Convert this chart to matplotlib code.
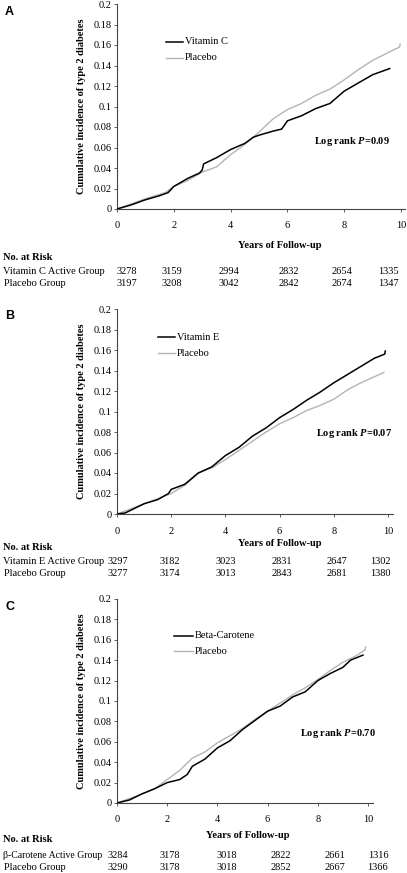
import matplotlib
matplotlib.use("Agg")
import matplotlib.pyplot as plt

plt.rcParams['font.family'] = ['Liberation Serif', 'DejaVu Serif']
plt.rcParams['mathtext.fontset'] = 'custom'
plt.rcParams['mathtext.it'] = 'Liberation Serif:italic:bold'
plt.rcParams['mathtext.rm'] = 'Liberation Serif:bold'

# ---------------- data ----------------
years = [0, 2, 4, 6, 8, 10]
yticks = [0, 0.02, 0.04, 0.06, 0.08, 0.1, 0.12, 0.14, 0.16, 0.18, 0.2]
ytick_labels = ['0', '0.02', '0.04', '0.06', '0.08', '0.1', '0.12', '0.14', '0.16', '0.18', '0.2']

panel_letters = ['A', 'B', 'C']
active_names = ['Vitamin C', 'Vitamin E', 'Beta-Carotene']
pvalue_texts = ['0.09', '0.07', '0.70']
risk_active_labels = ['Vitamin C Active Group', 'Vitamin E Active Group', 'β-Carotene Active Group']

# Panel A
a_act_x = [0, 0.5, 1, 1.5, 1.8, 2, 2.5, 2.9, 3.0, 3.05, 3.5, 4, 4.5, 4.8, 5, 5.5, 5.8, 6, 6.5, 7, 7.5, 8, 8.5, 9, 9.3, 9.6]
a_act_y = [0, 0.004, 0.009, 0.013, 0.016, 0.022, 0.030, 0.035, 0.038, 0.044, 0.050, 0.058, 0.064, 0.070, 0.072, 0.076, 0.078, 0.086, 0.091, 0.098, 0.103, 0.115, 0.123, 0.131, 0.134, 0.137]
a_pla_x = [0, 1, 1.7, 2, 2.5, 3, 3.5, 4, 4.5, 5, 5.5, 6, 6.5, 7, 7.5, 8, 8.5, 9, 9.5, 9.95, 9.97]
a_pla_y = [0, 0.010, 0.016, 0.022, 0.028, 0.036, 0.041, 0.053, 0.063, 0.075, 0.088, 0.097, 0.103, 0.111, 0.117, 0.126, 0.136, 0.145, 0.152, 0.158, 0.161]

# Panel B
b_act_x = [0, 0.3, 1, 1.5, 1.9, 2.0, 2.5, 3, 3.5, 4, 4.5, 5, 5.5, 6, 6.5, 7, 7.5, 8, 8.5, 9, 9.5, 9.88, 9.9]
b_act_y = [0, 0.001, 0.010, 0.014, 0.020, 0.024, 0.029, 0.040, 0.046, 0.057, 0.065, 0.076, 0.084, 0.094, 0.102, 0.111, 0.119, 0.128, 0.136, 0.144, 0.152, 0.156, 0.159]
b_pla_x = [0, 1, 2, 2.5, 3, 3.5, 4, 4.5, 5, 5.5, 6, 6.5, 7, 7.5, 8, 8.5, 9, 9.5, 9.85]
b_pla_y = [0, 0.010, 0.020, 0.028, 0.040, 0.045, 0.053, 0.062, 0.071, 0.080, 0.088, 0.094, 0.101, 0.106, 0.112, 0.121, 0.128, 0.134, 0.138]

# Panel C
c_act_x = [0, 0.5, 1, 1.5, 2, 2.5, 2.8, 3, 3.5, 4, 4.5, 5, 5.5, 6, 6.5, 7, 7.5, 8, 8.5, 9, 9.3, 9.8]
c_act_y = [0, 0.003, 0.009, 0.014, 0.020, 0.023, 0.028, 0.036, 0.043, 0.054, 0.061, 0.072, 0.081, 0.090, 0.095, 0.104, 0.109, 0.120, 0.127, 0.133, 0.140, 0.145]
c_pla_x = [0, 1, 1.5, 2, 2.5, 3, 3.5, 4, 4.5, 5, 5.5, 6, 6.5, 7, 7.5, 8, 8.5, 9, 9.5, 9.88, 9.9]
c_pla_y = [0, 0.009, 0.014, 0.023, 0.032, 0.044, 0.050, 0.059, 0.066, 0.073, 0.082, 0.090, 0.098, 0.106, 0.113, 0.121, 0.130, 0.138, 0.144, 0.150, 0.153]

risk_a_active = [3278, 3159, 2994, 2832, 2654, 1335]
risk_a_placebo = [3197, 3208, 3042, 2842, 2674, 1347]
risk_b_active = [3297, 3182, 3023, 2831, 2647, 1302]
risk_b_placebo = [3277, 3174, 3013, 2843, 2681, 1380]
risk_c_active = [3284, 3178, 3018, 2822, 2661, 1316]
risk_c_placebo = [3290, 3178, 3018, 2852, 2667, 1366]

# ---------------- layout (pixels) ----------------
W, H = 407, 873
fig = plt.figure(figsize=(W / 100, H / 100), dpi=100)

def fx(px):
    return px / W

def fy(py):
    return 1 - py / H

panels = [
    dict(left=117, top=4, bottom=209, x10=401, xend=405, ylab_x=82, xlab=(280, 246),
         risk_head=257, rows=(272, 284), cols=[127, 172, 229, 289, 342, 388],
         legend=(166, 183, 42, 58), pv=(352, 141), letter=(5, 6), label_fs=7.5,
         act=(a_act_x, a_act_y), pla=(a_pla_x, a_pla_y),
         risk=(risk_a_active, risk_a_placebo)),
    dict(left=117, top=309, bottom=514, x10=388, xend=393, ylab_x=82, xlab=(280, 543),
         risk_head=547, rows=(562, 574), cols=[118, 170, 226, 282, 337, 380],
         legend=(158, 175, 337, 353), pv=(354, 434), letter=(5, 310), label_fs=7.5,
         act=(b_act_x, b_act_y), pla=(b_pla_x, b_pla_y),
         risk=(risk_b_active, risk_b_placebo)),
    dict(left=117, top=599, bottom=803, x10=368, xend=373, ylab_x=82, xlab=(248, 835),
         risk_head=839, rows=(855, 867), cols=[118, 170, 227, 281, 335, 378],
         legend=(174, 193, 636, 651), pv=(338, 733), letter=(5, 601), label_fs=7.0,
         act=(c_act_x, c_act_y), pla=(c_pla_x, c_pla_y),
         risk=(risk_c_active, risk_c_placebo)),
]

tick_fs = 7.5
spine_col = '#444444'
gray = '#b4b4b4'

for i, p in enumerate(panels):
    width = p['xend'] - p['left']
    xmax = 10 * width / (p['x10'] - p['left'])
    ax = fig.add_axes([fx(p['left']), fy(p['bottom']), fx(width), (p['bottom'] - p['top']) / H])
    ax.plot(p['pla'][0], p['pla'][1], color=gray, lw=1.0, zorder=2)
    ax.plot(p['act'][0], p['act'][1], color='black', lw=1.1, zorder=3)
    ax.set_xlim(0, xmax)
    ax.set_ylim(0, 0.2)
    ax.set_yticks(yticks)
    ax.set_yticklabels(ytick_labels)
    ax.set_xticks(years)
    ax.set_xticklabels([str(y) for y in years])
    for s in ['top', 'right']:
        ax.spines[s].set_visible(False)
    for s in ['left', 'bottom']:
        ax.spines[s].set_color(spine_col)
        ax.spines[s].set_linewidth(0.8)
    ax.tick_params(axis='both', direction='out', length=2, width=0.6, color=spine_col,
                   labelsize=tick_fs, pad=2)
    ax.tick_params(axis='x', pad=7)
    ax.set_facecolor('none')

    # y label
    fig.text(fx(p['ylab_x']), fy((p['top'] + p['bottom']) / 2), 'Cumulative incidence of type 2 diabetes',
             rotation=90, ha='center', va='center', fontsize=7.5, fontweight='bold')
    # x label
    fig.text(fx(p['xlab'][0]), fy(p['xlab'][1]), 'Years of Follow-up', ha='center', va='center',
             fontsize=7.5, fontweight='bold')
    # legend
    lx0, lx1, ly1, ly2 = p['legend']
    fig.add_artist(plt.Line2D([fx(lx0), fx(lx1)], [fy(ly1), fy(ly1)], color='black', lw=1.1))
    fig.add_artist(plt.Line2D([fx(lx0), fx(lx1)], [fy(ly2), fy(ly2)], color=gray, lw=1.0))
    fig.text(fx(lx1 + 2), fy(ly1), active_names[i], ha='left', va='center', fontsize=7.5)
    fig.text(fx(lx1 + 2), fy(ly2), 'Placebo', ha='left', va='center', fontsize=7.5)
    # p-value
    fig.text(fx(p['pv'][0]), fy(p['pv'][1]), r'Log rank $P$=' + pvalue_texts[i],
             ha='center', va='center', fontsize=7.5, fontweight='bold')
    # panel letter
    fig.text(fx(p['letter'][0]), fy(p['letter'][1]), panel_letters[i], ha='left', va='top',
             fontsize=9, fontweight='bold', family=['Liberation Sans', 'DejaVu Sans'])
    # risk table
    fig.text(fx(3), fy(p['risk_head']), 'No. at Risk', ha='left', va='center', fontsize=7.5,
             fontweight='bold')
    fig.text(fx(3), fy(p['rows'][0]), risk_active_labels[i], ha='left', va='center',
             fontsize=p['label_fs'])
    fig.text(fx(4), fy(p['rows'][1]), 'Placebo Group', ha='left', va='center', fontsize=7.5)
    for cx, va_, vp_ in zip(p['cols'], p['risk'][0], p['risk'][1]):
        fig.text(fx(cx), fy(p['rows'][0]), str(va_), ha='center', va='center', fontsize=7.5)
        fig.text(fx(cx), fy(p['rows'][1]), str(vp_), ha='center', va='center', fontsize=7.5)

fig.savefig('out.png', dpi=100)
